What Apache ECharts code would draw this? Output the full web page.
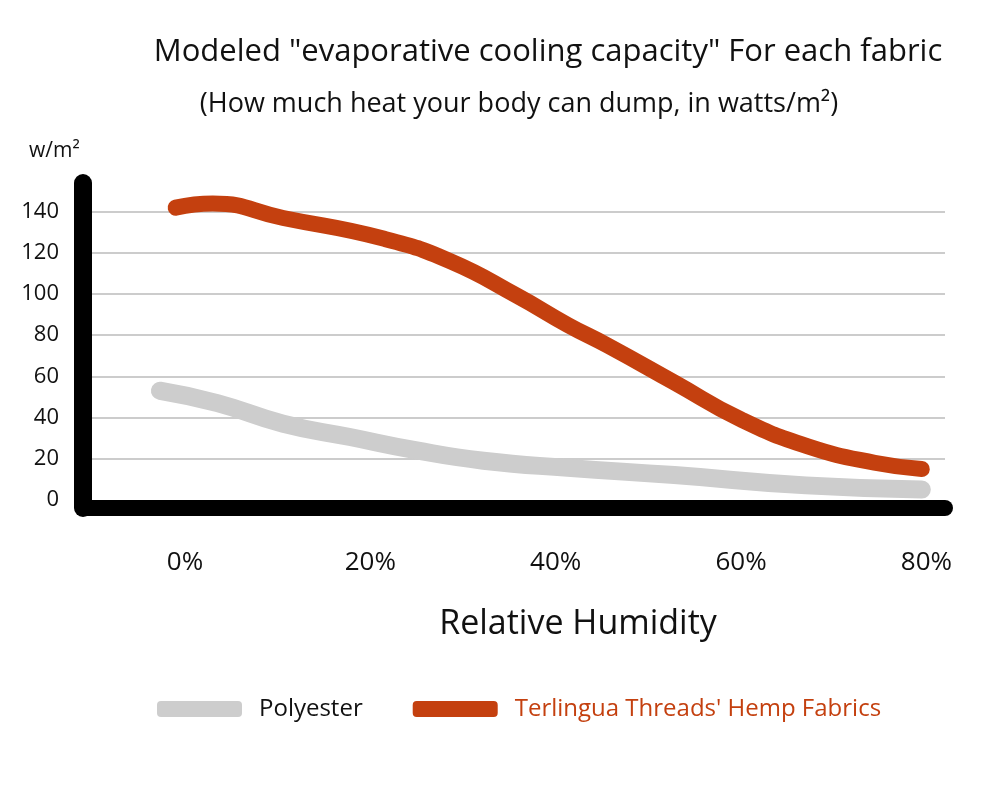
<!DOCTYPE html>
<html>
<head>
<meta charset="utf-8">
<script src="https://cdn.jsdelivr.net/npm/echarts@6/dist/echarts.min.js"></script>
<style>html,body{margin:0;padding:0;background:#fff}#c{width:1000px;height:789px}</style>
</head>
<body>
<div id="c"></div>
<script>
const xTicks = [0, 20, 40, 60, 80];
const yTicks = [0, 20, 40, 60, 80, 100, 120, 140];
const gridTicks = [20, 40, 60, 80, 100, 120, 140];
const hempX = [-1, 3, 10.6, 21.4, 28.6, 35.9, 41.3, 45.6, 52.8, 60, 67.2, 74.4, 79.5];
const hempY = [142, 144, 137, 127, 116, 99, 85, 75, 57, 39, 26, 18, 15];
const polyX = [-2.7, 3.5, 10.6, 17.8, 25, 32.2, 41.3, 52.8, 67, 79.5];
const polyY = [53, 47, 37, 30.5, 24, 19, 15.5, 12, 7, 5];
const names = ["Polyester", "Terlingua Threads' Hemp Fabrics"];
const RED = '#c4400f', GRAY = '#cdcdcd';
const FONT = 'Open Sans';

const chart = echarts.init(document.getElementById('c'), null, {renderer: 'canvas'});
chart.setOption({
  backgroundColor: '#fff',
  animation: false,
  textStyle: {fontFamily: FONT},
  title: [
    {text: 'Modeled "evaporative cooling capacity" For each fabric', left: 543, top: 32, textAlign: 'center',
     textStyle: {fontFamily: FONT, fontSize: 31, fontWeight: 'normal', color: '#111'}},
    {text: '(How much heat your body can dump, in watts/m²)', left: 514, top: 86, textAlign: 'center',
     textStyle: {fontFamily: FONT, fontSize: 27, fontWeight: 'normal', color: '#111'}},
    {text: 'w/m²', left: 24, top: 136,
     textStyle: {fontFamily: FONT, fontSize: 21, fontWeight: 'normal', color: '#111'}},
    {text: 'Relative Humidity', left: 573, top: 602, textAlign: 'center',
     textStyle: {fontFamily: FONT, fontSize: 34, fontWeight: 'normal', color: '#111'}}
  ],
  legend: {
    left: 152, top: 692,
    itemWidth: 85, itemHeight: 16, itemGap: 50,
    icon: 'roundRect',
    textStyle: {fontFamily: FONT, fontSize: 24, padding: [0, 0, 0, 12]},
    data: [
      {name: names[0], textStyle: {color: '#111'}},
      {name: names[1], textStyle: {color: RED}}
    ]
  },
  grid: {left: 83, right: 55, top: 183, bottom: 281, containLabel: false},
  xAxis: {
    type: 'value', min: -11, max: 82,
    axisLine: {show: true, onZero: false, lineStyle: {color: '#000', width: 16}},
    axisTick: {show: false},
    splitLine: {show: false},
    axisLabel: {customValues: xTicks, formatter: v => v + '%', fontSize: 26, color: '#111', margin: 42, fontFamily: FONT}
  },
  yAxis: {
    type: 'value', min: -4, max: 154,
    axisLine: {show: true, onZero: false, lineStyle: {color: '#000', width: 18}},
    axisTick: {show: false, customValues: gridTicks},
    splitLine: {show: true, lineStyle: {color: '#cccccc', width: 2}},
    axisLabel: {customValues: yTicks, fontSize: 22, color: '#111', margin: 24, fontFamily: FONT}
  },
  series: [
    {name: names[0], type: 'line', smooth: true, symbol: 'none', color: GRAY,
     lineStyle: {width: 18, color: GRAY, cap: 'round'}, z: 2,
     data: polyX.map((x, i) => [x, polyY[i]])},
    {name: names[1], type: 'line', smooth: true, symbol: 'none', color: RED,
     lineStyle: {width: 16, color: RED, cap: 'round'}, z: 3,
     data: hempX.map((x, i) => [x, hempY[i]])}
  ]
});
</script>
</body>
</html>
